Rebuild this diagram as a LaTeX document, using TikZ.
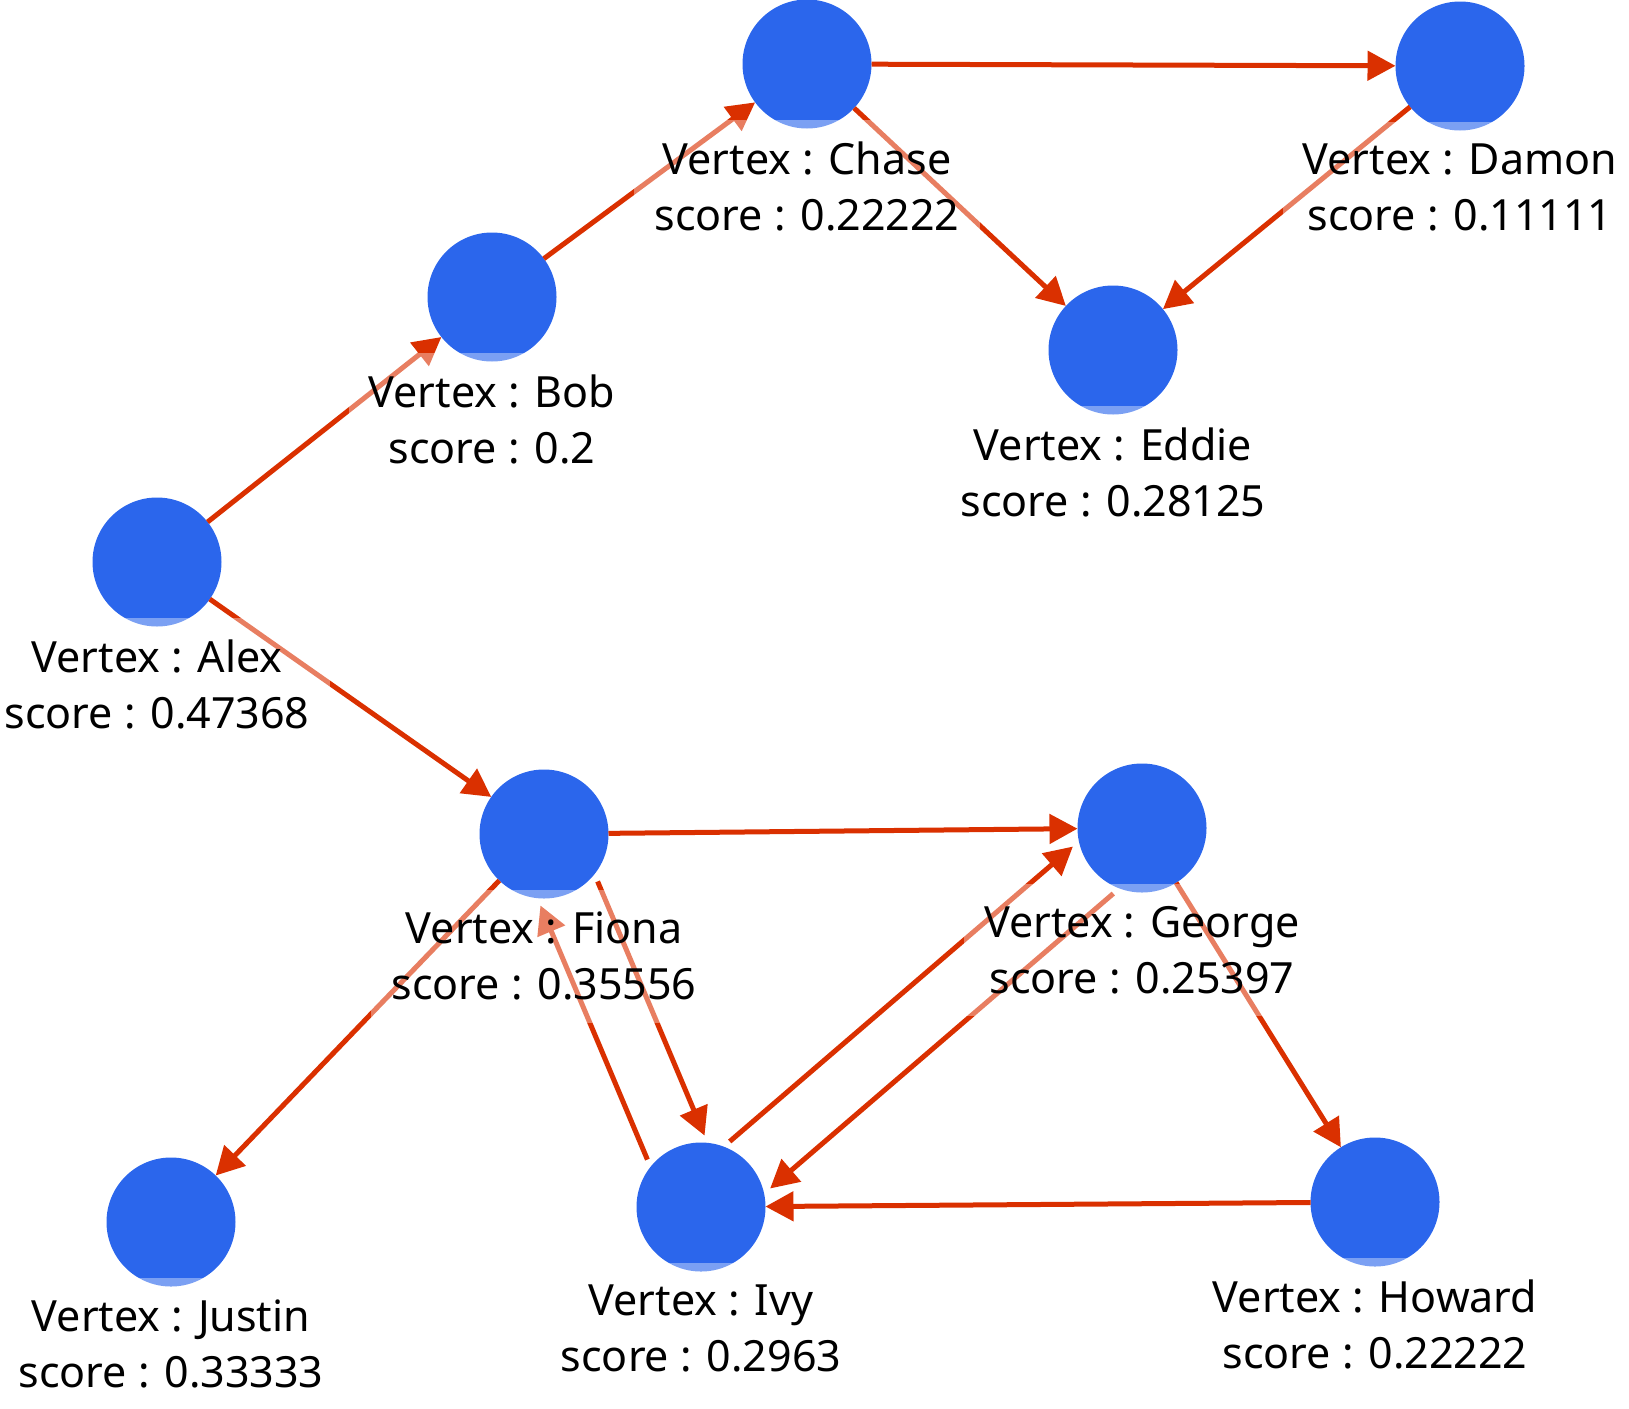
\documentclass[tikz,border=0pt]{standalone}
\usepackage{fontspec}
\setmainfont{Noto Sans}
\usetikzlibrary{arrows.meta,calc}
\definecolor{vblue}{RGB}{43,102,236}
\definecolor{ered}{RGB}{218,48,0}
\tikzstyle{vertex} = [circle,fill=vblue,inner sep=0,outer sep=0,minimum size=129pt]
\tikzstyle{tag} = [anchor=north,fill=white,fill opacity=0.38,text opacity=1,align=center,inner xsep=20pt,inner ysep=22pt,font=\fontsize{43pt}{56pt}\selectfont]
\tikzstyle{link} = [-{Triangle[length=28pt,width=29pt]},line width=5pt,draw=ered]
\def \rad {64.5pt}
\def \off {31pt}

\begin{document}
\begin{tikzpicture}[x=1pt,y=-1pt]
      \useasboundingbox (0,0) rectangle (1629,1408);
      % vertices
      \node[vertex] (a) at (157,562) {};
      \node[vertex] (b) at (492,297) {};
      \node[vertex] (c) at (807,64) {};
      \node[vertex] (d) at (1460,66) {};
      \node[vertex] (e) at (1113,350) {};
      \node[vertex] (f) at (544,834) {};
      \node[vertex] (g) at (1142,828) {};
      \node[vertex] (h) at (1375,1202) {};
      \node[vertex] (i) at (701,1207) {};
      \node[vertex] (j) at (171,1222) {};
      % edges
      \draw[link] (a) -- (b);
      \draw[link] (b) -- (c);
      \draw[link] (c) -- (d);
      \draw[link] (c) -- (e);
      \draw[link] (d) -- (e);
      \draw[link] (a) -- (f);
      \draw[link] (f) -- (g);
      \draw[link] (f) -- (j);
      \draw[link] (g) -- (h);
      \draw[link] (h) -- (i);
      \foreach \s/\t in {f/i,i/f,i/g,g/i}
        \draw[link] ($(\s)!\rad!(\t)!\off!90:(\t)$) -- ($(\t)!\rad!(\s)!\off!-90:(\s)$);
      % labels
      \node[tag] (al) at ([yshift=-56pt]a.center) {Vertex : Alex\\score : 0.47368};
      \node[tag] (bl) at ([yshift=-56pt]b.center) {Vertex : Bob\\score : 0.2};
      \node[tag] (cl) at ([yshift=-56pt]c.center) {Vertex : Chase\\score : 0.22222};
      \node[tag] (dl) at ([yshift=-56pt]d.center) {Vertex : Damon\\score : 0.11111};
      \node[tag] (el) at ([yshift=-56pt]e.center) {Vertex : Eddie\\score : 0.28125};
      \node[tag] (fl) at ([yshift=-56pt]f.center) {Vertex : Fiona\\score : 0.35556};
      \node[tag] (gl) at ([yshift=-56pt]g.center) {Vertex : George\\score : 0.25397};
      \node[tag] (hl) at ([yshift=-56pt]h.center) {Vertex : Howard\\score : 0.22222};
      \node[tag] (il) at ([yshift=-56pt]i.center) {Vertex : Ivy\\score : 0.2963};
      \node[tag] (jl) at ([yshift=-56pt]j.center) {Vertex : Justin\\score : 0.33333};
    \end{tikzpicture}
\end{document}
